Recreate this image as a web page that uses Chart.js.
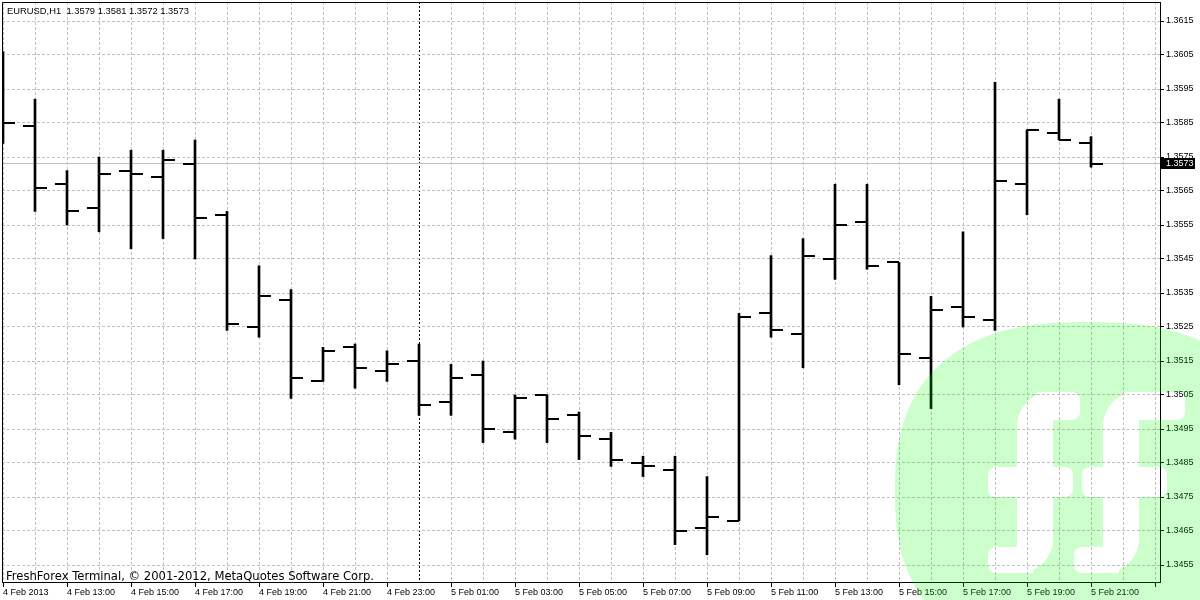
<!DOCTYPE html>
<html>
<head>
<meta charset="utf-8">
<script src="https://cdn.jsdelivr.net/npm/chart.js@4.4.1/dist/chart.umd.min.js"></script>
<style>
  html, body { margin: 0; padding: 0; background: #fff; }
  #wrap { width: 1200px; height: 600px; }
</style>
</head>
<body>
<div id="wrap"><canvas id="eurusd" width="1200" height="600"></canvas></div>
<script>
var SYMBOL = "EURUSD,H1";
var COPYRIGHT = "FreshForex Terminal, \u00a9 2001-2012, MetaQuotes Software Corp.";

// H1 bars from 4 Feb 2013 11:00 to 5 Feb 2013 21:00
var opens  = [1.3600, 1.3584, 1.3567, 1.3560, 1.3571, 1.3569, 1.3573, 1.3558, 1.3525, 1.3533,
              1.3509, 1.3519, 1.3512, 1.3515, 1.3503, 1.3511, 1.3494, 1.3505, 1.3499, 1.3492,
              1.3485, 1.3483, 1.3466, 1.3468, 1.3529, 1.3523, 1.3545, 1.3556, 1.3544, 1.3516,
              1.3531, 1.3527, 1.3567, 1.3582, 1.3579];
var highs  = [1.3606, 1.3592, 1.3571, 1.3575, 1.3577, 1.3577, 1.3580, 1.3559, 1.3543, 1.3536,
              1.3519, 1.3520, 1.3518, 1.3520, 1.3514, 1.3515, 1.3505, 1.3505, 1.3500, 1.3494,
              1.3487, 1.3487, 1.3481, 1.3529, 1.3546, 1.3551, 1.3567, 1.3567, 1.3544, 1.3534,
              1.3553, 1.3597, 1.3583, 1.3592, 1.3581];
var lows   = [1.3579, 1.3559, 1.3555, 1.3553, 1.3548, 1.3551, 1.3545, 1.3524, 1.3522, 1.3504,
              1.3509, 1.3507, 1.3509, 1.3499, 1.3499, 1.3491, 1.3492, 1.3491, 1.3486, 1.3484,
              1.3481, 1.3461, 1.3458, 1.3468, 1.3522, 1.3513, 1.3539, 1.3542, 1.3508, 1.3501,
              1.3525, 1.3524, 1.3558, 1.3580, 1.3572];
var closes = [1.3585, 1.3566, 1.3559, 1.3570, 1.3570, 1.3574, 1.3557, 1.3526, 1.3534, 1.3510,
              1.3518, 1.3513, 1.3514, 1.3502, 1.3510, 1.3495, 1.3504, 1.3498, 1.3493, 1.3486,
              1.3484, 1.3465, 1.3469, 1.3528, 1.3524, 1.3546, 1.3555, 1.3543, 1.3517, 1.3530,
              1.3528, 1.3568, 1.3583, 1.3580, 1.3573];

// time axis labels, one every second bar
var timeLabels = ["4 Feb 2013", "4 Feb 13:00", "4 Feb 15:00", "4 Feb 17:00", "4 Feb 19:00",
                  "4 Feb 21:00", "4 Feb 23:00", "5 Feb 01:00", "5 Feb 03:00", "5 Feb 05:00",
                  "5 Feb 07:00", "5 Feb 09:00", "5 Feb 11:00", "5 Feb 13:00", "5 Feb 15:00",
                  "5 Feb 17:00", "5 Feb 19:00", "5 Feb 21:00"];
var priceTicks = [1.3455, 1.3465, 1.3475, 1.3485, 1.3495, 1.3505, 1.3515, 1.3525, 1.3535,
                  1.3545, 1.3555, 1.3565, 1.3575, 1.3585, 1.3595, 1.3605, 1.3615];
var DAY_BREAK = 13; // bar index of 5 Feb 00:00

Chart.defaults.font.family = "'Liberation Sans', Arial, sans-serif";
Chart.defaults.font.size = 9;
Chart.defaults.color = "#000";

// open / close ticks as small point images
function makeTick(side) {
    var c = document.createElement("canvas");
    c.width = 26;
    c.height = 2;
    var g = c.getContext("2d");
    g.fillStyle = "#000";
    if (side == "left") {
        g.fillRect(1, 0, 12, 2);
    } else {
        g.fillRect(13, 0, 12, 2);
    }
    return c;
}

var highLow = [], openPts = [], closePts = [];
for (var i = 0; i < opens.length; i++) {
    highLow.push({x: i, y: [lows[i], highs[i]]});
    openPts.push({x: i, y: opens[i]});
    closePts.push({x: i, y: closes[i]});
}

function roundBox(g, x, y, w, h, r) {
    g.beginPath();
    if (g.roundRect) {
        g.roundRect(x, y, w, h, r);
    } else {
        g.rect(x, y, w, h);
    }
    g.fill();
}

// the FreshForex "ff" watermark, laid over everything with low alpha
function drawLogo(chart) {
    var ctx = chart.ctx;
    var off = document.createElement("canvas");
    off.width = chart.width;
    off.height = chart.height;
    var g = off.getContext("2d");
    var cx = 1088, cy = 491, a = 193, b = 169, n = 2.5;
    g.fillStyle = "#00ff00";
    g.beginPath();
    for (var s = 0; s <= 240; s++) {
        var t = s / 240 * Math.PI * 2;
        var ct = Math.cos(t), st = Math.sin(t);
        var px = cx + a * Math.sign(ct) * Math.pow(Math.abs(ct), 2 / n);
        var py = cy + b * Math.sign(st) * Math.pow(Math.abs(st), 2 / n);
        if (s == 0) g.moveTo(px, py); else g.lineTo(px, py);
    }
    g.closePath();
    g.fill();

    g.globalCompositeOperation = "destination-out";
    g.fillStyle = "#000";
    var stems = [1017, 1103];
    for (var k = 0; k < stems.length; k++) {
        var sx = stems[k];
        roundBox(g, sx, 392, 36, 181, [34, 0, 34, 0]);
        roundBox(g, sx + 20, 392, 43 + k * 19, 28, [0, 8, 8, 0]);
        roundBox(g, sx - 29 + k * 8, 467, 85, 30, 8);
        roundBox(g, sx - 29, 547, 45, 26, [8, 0, 0, 8]);
    }

    ctx.save();
    ctx.globalAlpha = 0.2;
    ctx.drawImage(off, 0, 0);
    ctx.restore();
}

var terminalPlugin = {
    id: "terminal",
    beforeDatasetsDraw: function(chart) {
        var ctx = chart.ctx, area = chart.chartArea;
        var y = Math.round(chart.scales.y.getPixelForValue(closes[closes.length - 1])) - 0.5;
        ctx.save();
        ctx.strokeStyle = "#c0c0c0";
        ctx.lineWidth = 1;
        ctx.beginPath();
        ctx.moveTo(area.left, y);
        ctx.lineTo(area.right, y);
        ctx.stroke();
        ctx.restore();
        ctx.imageSmoothingEnabled = false;
    },
    afterDatasetsDraw: function(chart) {
        chart.ctx.imageSmoothingEnabled = true;
    },
    afterDraw: function(chart) {
        var ctx = chart.ctx, area = chart.chartArea;
        var last = closes.length - 1;
        ctx.save();
        // frame on the left and top
        ctx.strokeStyle = "#000";
        ctx.lineWidth = 1;
        ctx.beginPath();
        ctx.moveTo(area.left + 0.5, area.bottom);
        ctx.lineTo(area.left + 0.5, area.top + 0.5);
        ctx.lineTo(area.right, area.top + 0.5);
        ctx.stroke();

        // current price box
        var y = Math.round(chart.scales.y.getPixelForValue(closes[last])) - 1;
        ctx.fillStyle = "#000";
        ctx.fillRect(area.right + 1, y - 5, 34, 11);
        ctx.fillStyle = "#fff";
        ctx.font = "9px 'Liberation Sans', Arial, sans-serif";
        ctx.textBaseline = "middle";
        ctx.fillText(closes[last].toFixed(4), area.right + 6, y + 0.5);

        // header line
        ctx.fillStyle = "#000";
        ctx.textBaseline = "alphabetic";
        ctx.font = "9.4px 'Liberation Sans', Arial, sans-serif";
        var ohlc = [opens[last], highs[last], lows[last], closes[last]].map(function(v) { return v.toFixed(4); });
        ctx.fillText(SYMBOL + "  " + ohlc.join(" "), 7, 14);

        ctx.font = "11.6px 'DejaVu Sans', sans-serif";
        ctx.fillText(COPYRIGHT, 6, 580);
        ctx.restore();

        drawLogo(chart);
    }
};

var chart = new Chart(document.getElementById("eurusd"), {
    type: "bar",
    data: {
        datasets: [
            {
                type: "bar",
                data: highLow,
                backgroundColor: "#000",
                borderWidth: 0,
                barThickness: 2,
                order: 2
            },
            {
                type: "scatter",
                data: openPts,
                pointStyle: makeTick("left"),
                pointRadius: 1,
                order: 1
            },
            {
                type: "scatter",
                data: closePts,
                pointStyle: makeTick("right"),
                pointRadius: 1,
                order: 1
            }
        ]
    },
    options: {
        responsive: false,
        animation: false,
        events: [],
        layout: {autoPadding: false, padding: {left: 2, top: 2, right: 0, bottom: 0}},
        plugins: {legend: {display: false}, tooltip: {enabled: false}},
        scales: {
            x: {
                type: "linear",
                offset: false,
                bounds: "data",
                min: -1 / 32,
                max: 36.15625,
                afterBuildTicks: function(scale) {
                    var t = [];
                    for (var k = 0; k <= Math.floor(scale.max); k++) t.push({value: k});
                    scale.ticks = t;
                },
                afterFit: function(scale) {
                    scale.height = 18;
                    scale.paddingLeft = 0;
                    scale.paddingRight = 0;
                },
                grid: {
                    offset: false,
                    color: function(c) { return c.tick && c.tick.value == DAY_BREAK ? "#000" : "#c0c0c0"; },
                    tickColor: function(c) { return c.index % 2 == 0 ? "#000" : "rgba(0,0,0,0)"; },
                    tickLength: 5,
                    lineWidth: 1
                },
                border: {
                    color: "#000",
                    dash: function(c) { return c.tick && c.tick.value == DAY_BREAK ? [2, 2] : [3, 2]; }
                },
                ticks: {
                    autoSkip: false,
                    maxRotation: 0,
                    minRotation: 0,
                    align: "start",
                    padding: 0,
                    callback: function(value) {
                        return value % 2 == 0 ? (timeLabels[value / 2] || "") : "";
                    }
                }
            },
            y: {
                type: "linear",
                position: "right",
                bounds: "data",
                min: 1.345,
                max: 1.345 + 580 / 34000,
                afterBuildTicks: function(scale) {
                    scale.ticks = priceTicks.map(function(v) { return {value: v}; });
                },
                afterFit: function(scale) {
                    scale.width = 40;
                    scale.paddingTop = 0;
                    scale.paddingBottom = 0;
                },
                grid: {color: "#c0c0c0", tickColor: "#000", tickLength: 4, lineWidth: 1},
                border: {color: "#000", dash: [3, 2]},
                ticks: {
                    padding: 2,
                    callback: function(value) { return value.toFixed(4); }
                }
            }
        }
    },
    plugins: [terminalPlugin]
});
</script>
</body>
</html>
